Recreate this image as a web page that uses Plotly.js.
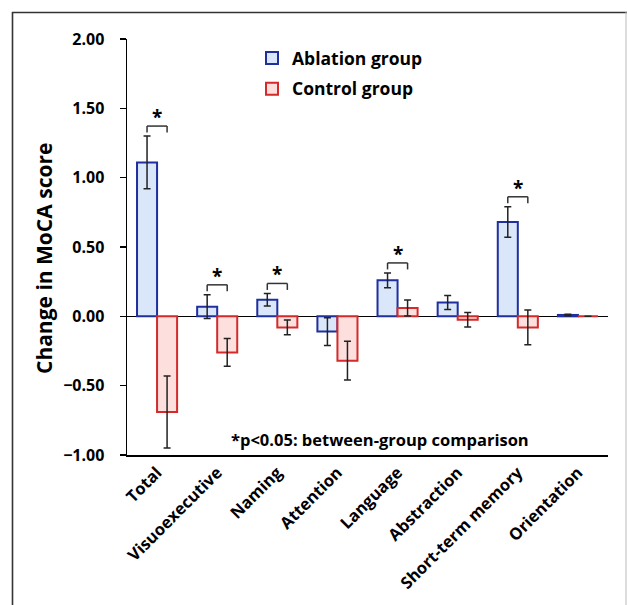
<!DOCTYPE html>
<html>
<head>
<meta charset="utf-8">
<script src="https://cdn.plot.ly/plotly-3.0.1.min.js"></script>
<style>
html,body{margin:0;padding:0;background:#fff;}
#chart{width:627px;height:605px;}
</style>
</head>
<body>
<div id="chart"></div>
<script>
const categories = ['Total','Visuoexecutive','Naming','Attention','Language','Abstraction','Short-term memory','Orientation'];
const ablationMean = [1.11, 0.07, 0.12, -0.11, 0.26, 0.10, 0.68, 0.01];
const ablationErr  = [0.19, 0.085, 0.045, 0.10, 0.053, 0.05, 0.11, 0.005];
const controlMean  = [-0.69, -0.26, -0.08, -0.32, 0.06, -0.025, -0.08, 0.00];
const controlErr   = [0.26, 0.10, 0.053, 0.14, 0.057, 0.052, 0.125, 0.0];
const significant  = [true, true, true, false, true, false, true, false];
const yTickVals    = [-1.0, -0.5, 0.0, 0.5, 1.0, 1.5, 2.0];
const seriesNames  = ['Ablation group', 'Control group'];
const footnote     = '*p<0.05: between-group comparison';
const yTitle       = 'Change in MoCA score';

const W = 627, H = 605;
const M = {l:127, r:19, t:39, b:150};
const plotW = W - M.l - M.r, plotH = H - M.t - M.b;
const yRange = [-1, 2];
const unitPerPx = (yRange[1]-yRange[0]) / plotH;
const px2paperX = px => (px - M.l) / plotW;
const px2paperY = py => (H - M.b - py) / plotH;

const FONT = {family:'"Open Sans", "DejaVu Sans", sans-serif', color:'#000', weight:700};

const traces = [
  {type:'bar', name:seriesNames[0], legendgroup:'a', x:categories, y:ablationMean,
   marker:{color:'#dae7fb', line:{color:'#1f2f9e', width:2}},
   error_y:{type:'data', array:ablationErr, visible:true, color:'#222', thickness:1.5, width:3.5}},
  {type:'bar', name:seriesNames[1], legendgroup:'b', x:categories, y:controlMean,
   marker:{color:'#fddfdd', line:{color:'#d42a2a', width:2}},
   error_y:{type:'data', array:controlErr, visible:true, color:'#222', thickness:1.5, width:3.5}}
];

const shapes = [];
const annotations = [];
// frame
shapes.push({type:'line', xref:'paper', yref:'paper', x0:px2paperX(12.5), x1:px2paperX(12.5), y0:px2paperY(12), y1:px2paperY(606), line:{color:'#333', width:1.6}});
shapes.push({type:'line', xref:'paper', yref:'paper', x0:px2paperX(12), x1:px2paperX(627), y0:px2paperY(12.5), y1:px2paperY(12.5), line:{color:'#333', width:1.6}});
shapes.push({type:'line', xref:'paper', yref:'paper', x0:px2paperX(626), x1:px2paperX(626), y0:px2paperY(12), y1:px2paperY(606), line:{color:'#bbb', width:1}});

// significance brackets
const off = 1/6;
categories.forEach((c, i) => {
  if (!significant[i]) return;
  const top = Math.max(ablationMean[i] + ablationErr[i], controlMean[i] + controlErr[i]);
  const yb = top + 10 * unitPerPx;
  const yl = yb - 6.5 * unitPerPx;
  const ln = {color:'#333', width:1.5};
  shapes.push({type:'line', xref:'x', yref:'y', x0:i-off, x1:i+off, y0:yb, y1:yb, line:ln});
  shapes.push({type:'line', xref:'x', yref:'y', x0:i-off, x1:i-off, y0:yb, y1:yl, line:ln});
  shapes.push({type:'line', xref:'x', yref:'y', x0:i+off, x1:i+off, y0:yb, y1:yl, line:ln});
  annotations.push({xref:'x', yref:'y', x:i, y:yb, text:'*', showarrow:false, yanchor:'bottom', yshift:-6,
    font:Object.assign({}, FONT, {size:19})});
});

annotations.push({xref:'paper', yref:'paper', x:px2paperX(380), y:px2paperY(439), text:footnote, showarrow:false,
  xanchor:'center', yanchor:'middle', font:Object.assign({}, FONT, {size:16.5})});
annotations.push({xref:'paper', yref:'paper', x:px2paperX(44), y:px2paperY(259), text:yTitle, showarrow:false,
  textangle:-90, xanchor:'center', yanchor:'middle', font:Object.assign({}, FONT, {size:21})});

const layout = {
  width:W, height:H,
  margin:M,
  paper_bgcolor:'#fff', plot_bgcolor:'#fff',
  barmode:'group', bargap:1/3, bargroupgap:0,
  showlegend:true,
  legend:{x:px2paperX(252), y:px2paperY(40), xanchor:'left', yanchor:'top',
    bgcolor:'rgba(0,0,0,0)', font:Object.assign({}, FONT, {size:17.5}),
    traceorder:'grouped', tracegroupgap:5, itemclick:false},
  xaxis:{type:'category', showline:true, linecolor:'#000', linewidth:1.5, ticks:'', showgrid:false,
    zeroline:false, tickangle:-45, tickfont:Object.assign({}, FONT, {size:16.5}), fixedrange:true},
  yaxis:{range:yRange, tickvals:yTickVals, tickformat:'.2f', showline:true, linecolor:'#000', linewidth:1.5,
    ticks:'outside', ticklen:6, tickwidth:1.5, tickcolor:'#000', showgrid:false,
    zeroline:true, zerolinecolor:'#000', zerolinewidth:1.5, ticklabelstandoff:12,
    tickfont:Object.assign({}, FONT, {size:16}), fixedrange:true},
  shapes:shapes,
  annotations:annotations
};

Plotly.newPlot('chart', traces, layout, {staticPlot:true, displayModeBar:false});
</script>
</body>
</html>
